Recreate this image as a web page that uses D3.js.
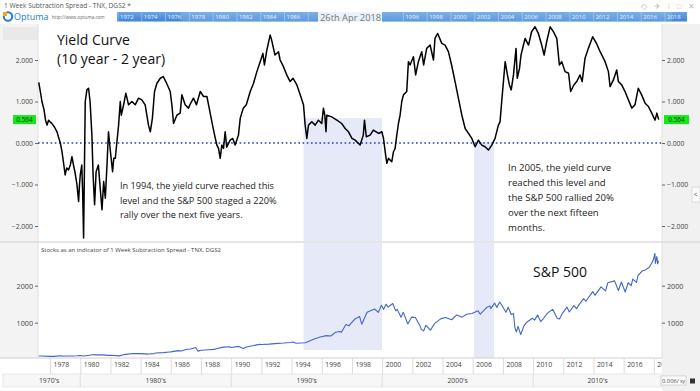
<!DOCTYPE html>
<html><head><meta charset="utf-8">
<script src="https://cdn.jsdelivr.net/npm/d3@7"></script>
<style>body{margin:0;background:#fff}svg{display:block}text{font-family:"Open Sans",sans-serif}</style>
</head><body><svg id="c" width="700" height="391"></svg>
<script>
// ---------- data ----------
const ycYears = [1977.25,1977.35,1977.46,1977.6,1977.7,1977.8,1977.9,1978.0,1978.1,1978.2,1978.3,1978.46,1978.55,1978.68,1978.79,1978.9,1979.0,1979.1,1979.22,1979.34,1979.45,1979.55,1979.65,1979.78,1979.89,1979.95,1980.0,1980.1,1980.16,1980.22,1980.28,1980.33,1980.44,1980.55,1980.65,1980.77,1980.85,1980.95,1981.05,1981.2,1981.32,1981.44,1981.55,1981.66,1981.77,1981.87,1982.0,1982.14,1982.22,1982.32,1982.43,1982.54,1982.65,1982.72,1982.87,1983.02,1983.2,1983.42,1983.64,1983.86,1984.08,1984.3,1984.52,1984.64,1984.78,1984.92,1985.08,1985.3,1985.5,1985.72,1985.96,1986.07,1986.18,1986.4,1986.62,1986.73,1986.95,1987.17,1987.3,1987.5,1987.7,1987.95,1988.17,1988.39,1988.5,1988.72,1988.9,1989.05,1989.16,1989.27,1989.38,1989.49,1989.6,1989.7,1989.93,1990.1,1990.26,1990.48,1990.6,1990.8,1991.0,1991.26,1991.48,1991.7,1991.92,1992.1,1992.2,1992.36,1992.58,1992.68,1992.8,1992.9,1993.13,1993.24,1993.46,1993.68,1993.9,1994.1,1994.35,1994.57,1994.79,1994.9,1995.01,1995.12,1995.34,1995.56,1995.78,1996.0,1996.11,1996.2,1996.28,1996.33,1996.66,1997.0,1997.32,1997.55,1997.77,1998.0,1998.21,1998.54,1998.75,1998.83,1998.95,1999.2,1999.42,1999.76,1999.98,2000.09,2000.2,2000.31,2000.42,2000.64,2000.75,2000.86,2000.97,2001.08,2001.19,2001.3,2001.41,2001.63,2001.74,2001.85,2002.07,2002.22,2002.4,2002.62,2002.75,2002.95,2003.18,2003.4,2003.5,2003.68,2003.95,2004.17,2004.39,2004.6,2004.83,2005.05,2005.28,2005.5,2005.72,2005.94,2006.16,2006.38,2006.6,2006.82,2007.04,2007.26,2007.48,2007.7,2007.81,2007.92,2008.15,2008.3,2008.43,2008.55,2008.7,2008.87,2008.95,2009.1,2009.2,2009.47,2009.7,2009.9,2010.13,2010.35,2010.57,2010.73,2010.9,2011.13,2011.35,2011.57,2011.74,2011.9,2012.12,2012.35,2012.49,2012.7,2012.89,2013.11,2013.25,2013.44,2013.66,2013.95,2014.2,2014.44,2014.77,2014.99,2015.1,2015.32,2015.54,2015.65,2015.87,2016.09,2016.31,2016.54,2016.75,2016.97,2017.19,2017.42,2017.64,2017.86,2018.08,2018.2,2018.32];
const ycValues = [1.46,1.25,1.0,0.8,0.55,0.43,0.55,0.51,0.48,0.43,0.38,0.27,0.15,0.0,-0.21,-0.5,-0.77,-0.6,-0.65,-0.53,-0.33,-0.53,-0.7,-1.0,-1.41,-1.0,-0.77,-0.53,-1.2,-2.29,-0.5,1.0,1.28,1.32,1.0,0.19,-0.77,-1.49,-0.69,-0.53,-1.08,-1.61,-0.93,-1.33,-0.53,0.27,-0.21,-0.69,-0.37,-0.37,0.03,0.43,1.0,0.67,0.92,1.2,0.92,1.0,0.92,1.08,1.04,0.92,0.43,0.27,0.6,1.24,1.44,1.56,1.6,1.44,1.24,0.92,0.47,0.67,0.72,1.16,0.92,0.84,0.95,1.08,0.92,1.24,1.12,1.12,0.92,0.51,0.19,-0.05,-0.13,-0.37,-0.05,-0.13,0.27,-0.1,0.07,0.11,-0.05,0.19,0.6,0.84,0.92,1.24,1.44,1.72,1.96,2.16,1.88,2.24,2.6,2.48,2.28,2.12,2.2,2.0,1.84,1.64,1.48,1.56,1.4,1.16,0.92,0.43,0.11,0.43,0.51,0.43,0.55,0.47,0.84,0.67,0.27,0.67,0.63,0.55,0.47,0.35,0.27,0.11,0.07,-0.05,0.19,0.55,0.15,0.19,0.31,0.23,0.27,0.11,-0.21,-0.49,-0.37,-0.45,-0.21,-0.13,0.19,0.47,0.67,1.0,1.16,1.24,1.96,1.88,2.08,1.64,1.96,2.2,1.88,2.28,2.36,2.0,2.52,2.64,2.4,2.36,2.2,1.88,1.48,1.08,0.67,0.35,0.23,0.11,-0.09,0.07,-0.05,-0.09,-0.17,-0.05,0.11,0.43,0.51,1.0,1.96,1.64,1.4,1.28,1.64,2.28,1.56,1.8,2.12,2.52,2.36,2.68,2.8,2.64,2.36,2.12,2.44,2.8,2.68,2.52,1.88,1.96,1.72,1.68,1.24,1.4,1.48,1.64,1.48,2.04,2.28,2.56,2.4,2.2,1.96,1.72,1.36,1.52,1.76,1.48,1.4,1.24,1.04,0.84,0.92,1.32,1.16,0.96,0.88,0.72,0.55,0.72,0.564];

const spYears = [1977.25,1977.5,1978.0,1978.25,1978.7,1978.9,1979.0,1979.5,1979.8,1980.0,1980.2,1980.5,1980.9,1981.0,1981.5,1981.8,1982.0,1982.6,1982.9,1983.0,1983.5,1983.8,1984.0,1984.5,1984.9,1985.0,1985.5,1985.9,1986.0,1986.5,1986.7,1987.0,1987.3,1987.65,1987.8,1987.9,1988.0,1988.5,1988.9,1989.0,1989.5,1989.9,1990.0,1990.5,1990.8,1991.0,1991.5,1991.9,1992.0,1992.5,1992.9,1993.5,1993.9,1994.1,1994.3,1994.9,1995.0,1995.5,1995.9,1996.3,1996.6,1996.9,1997.2,1997.3,1997.6,1997.8,1997.9,1998.2,1998.5,1998.65,1998.9,1999.0,1999.5,1999.75,1999.95,2000.1,2000.25,2000.4,2000.7,2000.9,2001.0,2001.25,2001.4,2001.7,2001.95,2002.2,2002.5,2002.6,2002.75,2002.9,2003.2,2003.5,2003.9,2004.2,2004.6,2004.95,2005.3,2005.6,2005.95,2006.35,2006.5,2006.95,2007.15,2007.2,2007.45,2007.6,2007.78,2007.95,2008.2,2008.35,2008.55,2008.7,2008.8,2008.9,2009.0,2009.18,2009.4,2009.6,2009.95,2010.1,2010.3,2010.5,2010.7,2010.95,2011.3,2011.6,2011.75,2011.95,2012.25,2012.4,2012.7,2012.88,2013.0,2013.35,2013.5,2013.95,2014.1,2014.5,2014.8,2014.95,2015.4,2015.65,2015.85,2016.1,2016.3,2016.5,2016.6,2016.85,2016.95,2017.2,2017.5,2017.7,2017.95,2018.07,2018.1,2018.2,2018.25,2018.32];
const spValues = [98,100,90,89,105,94,99,102,107,114,98,115,140,130,130,117,120,104,138,145,168,165,164,152,165,180,190,210,212,245,235,274,290,330,230,245,255,270,278,297,340,350,330,360,305,345,385,415,410,420,435,450,466,480,445,459,470,560,615,650,640,740,760,740,950,915,970,1100,1170,960,1190,1280,1370,1280,1470,1360,1500,1420,1520,1320,1360,1150,1280,965,1150,1140,920,820,780,930,800,990,1110,1140,1080,1210,1150,1230,1250,1320,1230,1420,1450,1380,1530,1410,1560,1460,1280,1420,1220,1250,850,750,900,680,920,1020,1120,1070,1210,1030,1120,1260,1360,1120,1100,1260,1420,1290,1460,1380,1460,1650,1580,1840,1740,1970,1860,2080,2130,1870,2100,1830,2080,2000,2180,2090,2270,2390,2440,2500,2680,2870,2600,2790,2590,2670];

const yearTicks = [1978,1980,1982,1984,1986,1988,1990,1992,1994,1996,1998,2000,2002,2004,2006,2008,2010,2012,2014,2016,2018];
const decadeLabels = ["1970's","1980's","1990's","2000's","2010's"];
const decadeStarts = [1970,1980,1990,2000,2010];
const ycTicks = [2,1,0,-1,-2];
const spTicks = [2000,1000];
const navYears = [1972,1974,1976,1978,1980,1982,1984,1986,1988,1990,1992,1994,1996,1998,2000,2002,2004,2006,2008,2010,2012,2014,2016,2018];
const shadeStart = [1994.79, 2006.09];
const shadeEnd = [1999.99, 2007.42];
const shadeTopYC = [0.6, 0.02];
const shadeBottomSP = [262, 0];
const lastValue = 0.564;
const dateLabel = "26th Apr 2018";
const annot1994 = ["In 1994, the yield curve reached this","level and the S&P 500 staged a 220%","rally over the next five years."];
const annot2005 = ["In 2005, the yield curve","reached this level and","the S&P 500 rallied 20%","over the next fifteen","months."];

// ---------- layout ----------
const svg = d3.select("#c");
const L = 38, R = 662;
const topY0 = 24, topY1 = 241, botY0 = 243, botY1 = 358;
const x = d3.scaleLinear().domain([1977.2, 2018.54]).range([L, R]);
const yT = d3.scaleLinear().domain([-2, 2]).range([226, 60]);
const yB = d3.scaleLinear().domain([0, 2000]).range([359.7, 285.7]);
const xNav = d3.scaleLinear().domain([1972, 2018]).range([119, 666]);

// backgrounds
svg.append("rect").attr("x",0).attr("y",topY0).attr("width",L).attr("height",botY1-topY0).attr("fill","#f3f3f3");
svg.append("rect").attr("x",3).attr("y",27).attr("width",L-3).attr("height",13).attr("fill","#e9e9e9");
svg.append("rect").attr("x",R).attr("y",topY0).attr("width",700-R).attr("height",391-topY0).attr("fill","#f1f1f1");
svg.append("line").attr("x1",L).attr("x2",L).attr("y1",topY0).attr("y2",botY1).attr("stroke","#e0e0e0");
svg.append("line").attr("x1",R).attr("x2",R).attr("y1",topY0).attr("y2",botY1).attr("stroke","#e0e0e0");

// header
svg.append("text").attr("x",4).attr("y",8).attr("font-size",6.6).attr("fill","#555").text("1 Week Subtraction Spread - TNX, DGS2 *");
svg.append("text").attr("x",641).attr("y",8.5).attr("font-size",7.5).attr("fill","#bbb").attr("letter-spacing",2.5).text("◇ ✈ ⁞ □ ✕");
// logo
svg.append("circle").attr("cx",8).attr("cy",16.5).attr("r",4.2).attr("fill","none").attr("stroke","#1e7fd6").attr("stroke-width",2);
svg.append("rect").attr("x",3).attr("y",12).attr("width",4).attr("height",4).attr("fill","#f5a623");
svg.append("text").attr("x",14).attr("y",20).attr("font-size",9).attr("fill","#1e7fd6").text("Optuma");
svg.append("text").attr("x",52).attr("y",19).attr("font-size",4.6).attr("fill","#666").text("http://www.optuma.com");
// nav bar
const navDefs = svg.append("defs").append("linearGradient").attr("id","nb").attr("x1",0).attr("x2",0).attr("y1",0).attr("y2",1);
navDefs.append("stop").attr("offset","0%").attr("stop-color","#6aa6e6");
navDefs.append("stop").attr("offset","100%").attr("stop-color","#3f82d6");
svg.append("rect").attr("x",117).attr("y",12).attr("width",570).attr("height",9.5).attr("fill","url(#nb)");
svg.append("rect").attr("x",xNav(1977.2)).attr("y",12).attr("width",xNav(2018.5)-xNav(1977.2)).attr("height",9.5).attr("fill","#9cc4ee").attr("opacity",0.35);
const dateX0 = 318, dateX1 = 382;
navYears.forEach(yv => {
  const px = xNav(yv);
  svg.append("line").attr("x1",px-1).attr("x2",px-1).attr("y1",12).attr("y2",21.5).attr("stroke","#b9d4f2").attr("stroke-width",0.6);
  if (px + 16 < dateX0 || px > dateX1)
    svg.append("text").attr("x",px+1).attr("y",19).attr("font-size",6).attr("fill","#e8f1fc").text(yv);
});
svg.append("rect").attr("x",dateX0).attr("y",11).attr("width",dateX1-dateX0).attr("height",11).attr("fill","#fff").attr("opacity",0.85);
svg.append("text").attr("x",320).attr("y",20.5).attr("font-size",9.3).attr("fill","#777").text(dateLabel);

// panel separators
svg.append("line").attr("x1",0).attr("x2",700).attr("y1",242).attr("y2",242).attr("stroke","#dcdcdc").attr("stroke-width",1.5);

// shaded regions
shadeStart.forEach((s,i) => {
  svg.append("rect").attr("x",x(s)).attr("y",yT(shadeTopYC[i])).attr("width",x(shadeEnd[i])-x(s)).attr("height",topY1-yT(shadeTopYC[i])).attr("fill","#e6eaf8");
  svg.append("rect").attr("x",x(s)).attr("y",botY0).attr("width",x(shadeEnd[i])-x(s)).attr("height",Math.min(yB(shadeBottomSP[i]),botY1)-botY0).attr("fill","#e6eaf8");
});

// annotation texts
svg.append("text").attr("x",57).attr("y",45).attr("font-size",14).attr("fill","#111").text("Yield Curve");
svg.append("text").attr("x",57).attr("y",64).attr("font-size",14).attr("fill","#111").text("(10 year - 2 year)");
annot1994.forEach((t,i)=> svg.append("text").attr("x",120).attr("y",189+i*14.6).attr("font-size",9.2).attr("fill","#222").text(t));
annot2005.forEach((t,i)=> svg.append("text").attr("x",508).attr("y",170.5+i*15).attr("font-size",9.6).attr("fill","#222").text(t));
svg.append("text").attr("x",533).attr("y",277).attr("font-size",14).attr("fill","#111").text("S&P 500");
svg.append("text").attr("x",41).attr("y",252).attr("font-size",6).attr("fill","#444").text("Stocks as an indicator of 1 Week Subtraction Spread - TNX, DGS2");

// zero line
svg.append("line").attr("x1",L).attr("x2",R).attr("y1",yT(0)).attr("y2",yT(0)).attr("stroke","#1f3fbf").attr("stroke-width",1.6).attr("stroke-dasharray","1.6,2.6");

// yield curve line
const ycData = ycYears.map((d,i)=>[d,ycValues[i]]);
svg.append("path").datum(ycData).attr("fill","none").attr("stroke","#000").attr("stroke-width",1.5).attr("stroke-linejoin","round")
  .attr("d", d3.line().x(d=>x(d[0])).y(d=>yT(d[1])));
// sp line
const spData = spYears.map((d,i)=>[d,spValues[i]]);
svg.append("path").datum(spData).attr("fill","none").attr("stroke","#4166cc").attr("stroke-width",1.1).attr("stroke-linejoin","round")
  .attr("d", d3.line().x(d=>x(d[0])).y(d=>yB(d[1])));

// y axes
const fmt3 = d3.format(".3f");
const axL = svg.append("g").attr("transform",`translate(${L},0)`).call(d3.axisLeft(yT).tickValues(ycTicks).tickFormat(fmt3).tickSize(3).tickPadding(2));
const axR = svg.append("g").attr("transform",`translate(${R},0)`).call(d3.axisRight(yT).tickValues(ycTicks).tickFormat(fmt3).tickSize(3).tickPadding(2));
const axBL = svg.append("g").attr("transform",`translate(${L},0)`).call(d3.axisLeft(yB).tickValues(spTicks).tickFormat(d3.format("d")).tickSize(3).tickPadding(2));
const axBR = svg.append("g").attr("transform",`translate(${R},0)`).call(d3.axisRight(yB).tickValues(spTicks).tickFormat(d3.format("d")).tickSize(3).tickPadding(2));
[axL,axR,axBL,axBR].forEach(a=>{
  a.select(".domain").remove();
  a.selectAll("line").attr("stroke","#666");
  a.selectAll("text").attr("font-size",6.8).attr("fill","#444").attr("font-family","'Open Sans',sans-serif");
});
axBL.selectAll("text").attr("font-size",7.2);
axBR.selectAll("text").attr("font-size",7.2);

// last value labels
[[13,36],[664,689]].forEach(([a,b])=>{
  svg.append("rect").attr("x",a).attr("y",yT(lastValue)-4.5).attr("width",b-a).attr("height",9).attr("fill","#19e619");
  svg.append("text").attr("x",(a+b)/2).attr("y",yT(lastValue)+2.3).attr("text-anchor","middle").attr("font-size",6.5).attr("fill","#114411").text(fmt3(lastValue));
});
// collapse tab
svg.append("rect").attr("x",692).attr("y",187).attr("width",8).attr("height",15).attr("fill","#fafafa").attr("stroke","#ccc").attr("stroke-width",0.6);
svg.append("text").attr("x",693.5).attr("y",197).attr("font-size",7).attr("fill","#555").text("<");

// x axis rows
const rowY0 = 358, rowY1 = 374, rowY2 = 387;
svg.append("rect").attr("x",0).attr("y",rowY0).attr("width",R).attr("height",rowY1-rowY0).attr("fill","#fff");
svg.append("rect").attr("x",3).attr("y",rowY1).attr("width",R-3).attr("height",rowY2-rowY1).attr("fill","#f7f7f7").attr("stroke","#dedede").attr("stroke-width",0.7);
svg.append("line").attr("x1",0).attr("x2",R).attr("y1",rowY0).attr("y2",rowY0).attr("stroke","#cfcfcf");
svg.append("clipPath").attr("id","cx").append("rect").attr("x",0).attr("y",-2).attr("width",R).attr("height",20);
const gx = svg.append("g").attr("transform",`translate(0,${rowY0})`).attr("clip-path","url(#cx)")
  .call(d3.axisBottom(x).tickValues(yearTicks).tickFormat(d3.format("d")).tickSize(16).tickPadding(0));
gx.select(".domain").remove();
gx.selectAll("line").attr("stroke","#dcdcdc");
gx.selectAll("text").attr("font-size",6.8).attr("fill","#444").attr("text-anchor","start").attr("x",3).attr("y",9).attr("dy","0");
const decEdges = decadeStarts.map(d=>Math.max(x(d),18)).concat([R]);
decadeLabels.forEach((t,i)=>{
  if(i>0) svg.append("line").attr("x1",x(decadeStarts[i])).attr("x2",x(decadeStarts[i])).attr("y1",rowY1).attr("y2",rowY2).attr("stroke","#dedede");
  svg.append("text").attr("x",(decEdges[i]+decEdges[i+1])/2).attr("y",383).attr("text-anchor","middle").attr("font-size",6.8).attr("fill","#444").text(t);
});
// bottom-right
svg.append("rect").attr("x",661).attr("y",376).attr("width",25).attr("height",9).attr("fill","#fff").attr("stroke","#bbb").attr("stroke-width",0.6);
svg.append("text").attr("x",662).attr("y",383).attr("font-size",5.8).attr("fill","#444").text("0.006/");
svg.append("text").attr("x",680).attr("y",383).attr("font-size",5).attr("fill","#444").text("xy");
svg.append("rect").attr("x",690).attr("y",378.5).attr("width",5).attr("height",5).attr("fill","#333");
</script></body></html>
